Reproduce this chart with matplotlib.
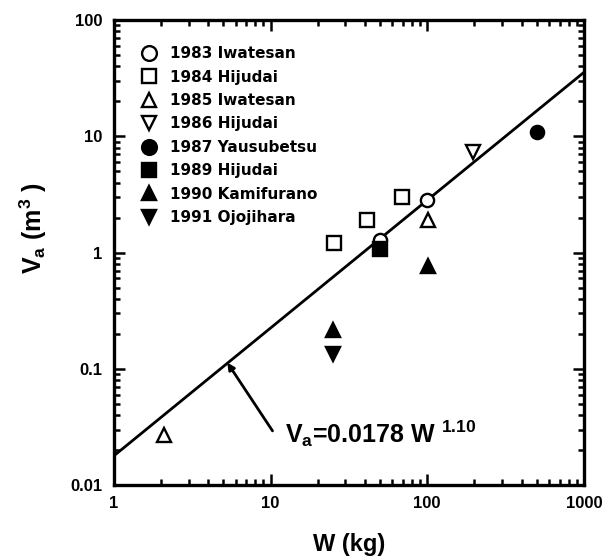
import matplotlib
matplotlib.use("Agg")
import matplotlib.pyplot as plt
import numpy as np
from matplotlib.ticker import FixedLocator, FixedFormatter, LogLocator, NullFormatter

plt.rcParams['font.family'] = ['Liberation Sans', 'DejaVu Sans']
plt.rcParams['font.weight'] = 'bold'
plt.rcParams['mathtext.fontset'] = 'custom'
plt.rcParams['mathtext.rm'] = 'Liberation Sans:bold'
plt.rcParams['mathtext.it'] = 'Liberation Sans:bold'
plt.rcParams['mathtext.bf'] = 'Liberation Sans:bold'

# Data (W in kg, Va in m^3)
labels = ["1983 Iwatesan", "1984 Hijudai", "1985 Iwatesan", "1986 Hijudai",
          "1987 Yausubetsu", "1989 Hijudai", "1990 Kamifurano", "1991 Ojojihara"]
w_1983 = [50, 100]
v_1983 = [1.27, 2.86]
w_1984 = [25.6, 41.5, 69]
v_1984 = [1.2, 1.89, 2.98]
w_1985 = [2.08, 101]
v_1985 = [0.027, 1.92]
w_1986 = [196]
v_1986 = [7.3]
w_1987 = [501]
v_1987 = [11.0]
w_1989 = [50]
v_1989 = [1.08]
w_1990 = [25, 101]
v_1990 = [0.217, 0.76]
w_1991 = [25]
v_1991 = [0.135]

fit_coef = 0.0178
fit_exp = 1.10
fit_w = [1, 1000]

xticks = [1, 10, 100, 1000]
xticklabels = ["1", "10", "100", "1000"]
yticks = [0.01, 0.1, 1, 10, 100]
yticklabels = ["0.01", "0.1", "1", "10", "100"]

fig = plt.figure(figsize=(6.12, 5.6), dpi=100)
ax = fig.add_axes([0.186, 0.134, 0.768, 0.830])

ms = 9.5
mew = 1.7
series = [
    (w_1983, v_1983, 'o', 'white'),
    (w_1984, v_1984, 's', 'white'),
    (w_1985, v_1985, '^', 'white'),
    (w_1986, v_1986, 'v', 'white'),
    (w_1987, v_1987, 'o', 'black'),
    (w_1989, v_1989, 's', 'black'),
    (w_1990, v_1990, '^', 'black'),
    (w_1991, v_1991, 'v', 'black'),
]

fw = np.logspace(np.log10(fit_w[0]), np.log10(fit_w[1]), 50)
ax.plot(fw, fit_coef * fw ** fit_exp, color='black', lw=2.0, zorder=2)

for (w, v, m, fc), lab in zip(series, labels):
    ax.plot(w, v, linestyle='none', marker=m, markersize=ms, markerfacecolor=fc,
            markeredgecolor='black', markeredgewidth=mew, label=lab, zorder=3)

ax.set_xscale('log')
ax.set_yscale('log')
ax.set_xlim(1, 1000)
ax.set_ylim(0.01, 100)

ax.xaxis.set_major_locator(FixedLocator(xticks))
ax.xaxis.set_major_formatter(FixedFormatter(xticklabels))
ax.yaxis.set_major_locator(FixedLocator(yticks))
ax.yaxis.set_major_formatter(FixedFormatter(yticklabels))
ax.xaxis.set_minor_locator(LogLocator(base=10, subs=np.arange(2, 10)))
ax.yaxis.set_minor_locator(LogLocator(base=10, subs=np.arange(2, 10)))
ax.xaxis.set_minor_formatter(NullFormatter())
ax.yaxis.set_minor_formatter(NullFormatter())

ax.tick_params(which='both', direction='in', top=True, right=True, width=1.8)
ax.tick_params(which='major', length=8, labelsize=12, pad=8)
ax.tick_params(which='minor', length=4.5)
for lab in ax.get_xticklabels() + ax.get_yticklabels():
    lab.set_fontweight('bold')
for sp in ax.spines.values():
    sp.set_linewidth(2.4)

ax.set_xlabel("W (kg)", fontsize=17, fontweight='bold')
ax.xaxis.label.set_va('center')
ax.xaxis.set_label_coords(0.5, -0.129)
ax.set_ylabel(r"$\mathrm{V_a}$ (m$^{3}$ )", fontsize=18, fontweight='bold')
ax.yaxis.label.set_va('center')
ax.yaxis.set_label_coords(-0.172, 0.553)

leg = ax.legend(loc='upper left', frameon=False, handletextpad=0.9,
                prop={'family': 'DejaVu Sans', 'weight': 'bold', 'size': 11},
                labelspacing=0.55, borderaxespad=0.0, handlelength=1.0,
                markerscale=1.12, bbox_to_anchor=(0.045, 0.957))

ax.annotate("", xy=(5.3, 0.113), xytext=(10.3, 0.0292),
            arrowprops=dict(arrowstyle='-|>', color='black', lw=2.0,
                            shrinkA=0, shrinkB=0, mutation_scale=10))
ax.text(12.3, 0.0230, r"$\mathrm{V_a}$=0.0178 W $^{1.10}$", fontsize=18,
        fontweight='bold', ha='left', va='baseline')

fig.savefig("out.png", dpi=100)
